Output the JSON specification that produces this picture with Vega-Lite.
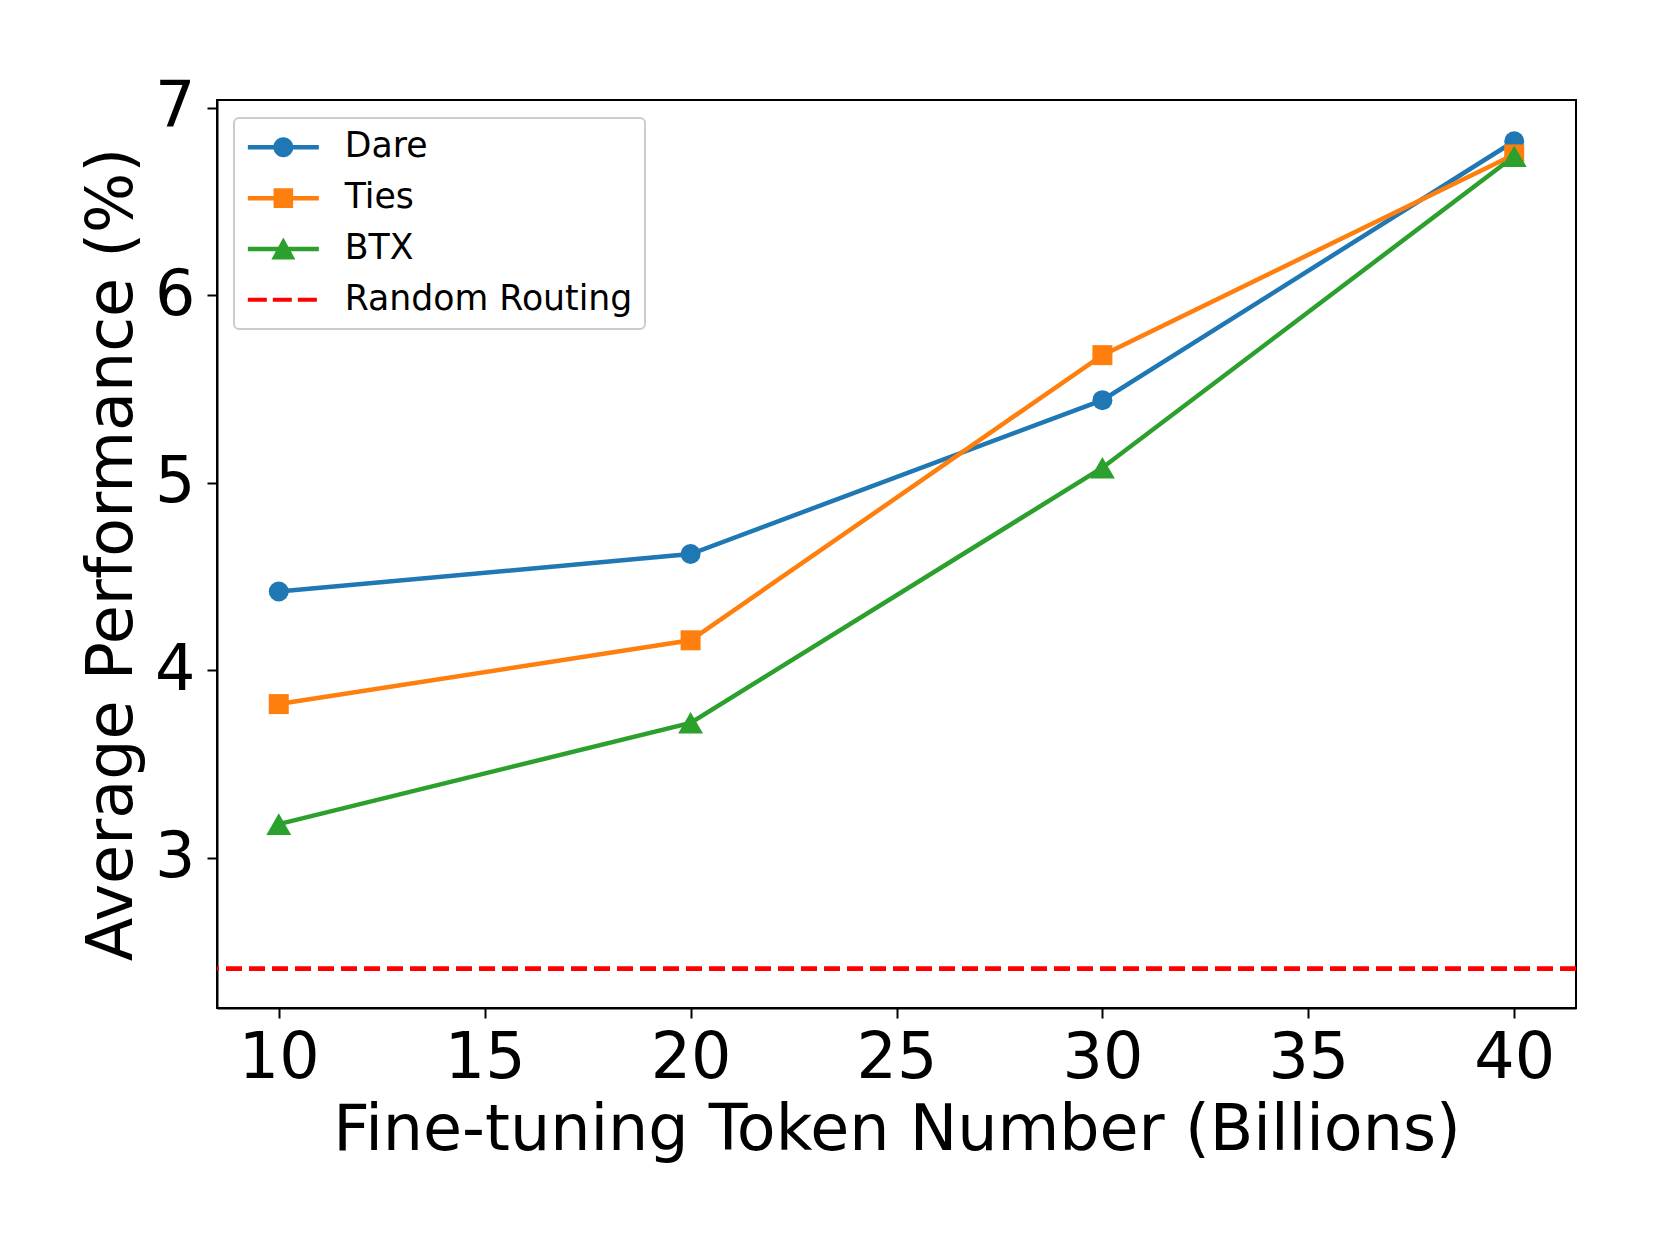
{
  "$schema": "https://vega.github.io/schema/vega-lite/v6.json",
  "width": 1359,
  "height": 908,
  "autosize": {"type": "none"},
  "padding": {"left": 217, "top": 100, "right": 85, "bottom": 238},
  "background": "white",
  "datasets": {
    "perf": [
      {"series": "Dare", "tokens": 10, "value": 4.42},
      {"series": "Dare", "tokens": 20, "value": 4.62},
      {"series": "Dare", "tokens": 30, "value": 5.44},
      {"series": "Dare", "tokens": 40, "value": 6.82},
      {"series": "Ties", "tokens": 10, "value": 3.82},
      {"series": "Ties", "tokens": 20, "value": 4.16},
      {"series": "Ties", "tokens": 30, "value": 5.68},
      {"series": "Ties", "tokens": 40, "value": 6.75},
      {"series": "BTX", "tokens": 10, "value": 3.18},
      {"series": "BTX", "tokens": 20, "value": 3.72},
      {"series": "BTX", "tokens": 30, "value": 5.08},
      {"series": "BTX", "tokens": 40, "value": 6.74}
    ],
    "random": [{"series": "Random Routing", "value": 2.41}],
    "legendRows": [
      {"series": "Dare"},
      {"series": "Ties"},
      {"series": "BTX"},
      {"series": "Random Routing"}
    ]
  },
  "config": {
    "font": "DejaVu Sans",
    "view": {"stroke": "black", "strokeWidth": 2},
    "axis": {
      "grid": false,
      "domainColor": "black",
      "domainWidth": 2,
      "tickColor": "black",
      "tickWidth": 2,
      "tickSize": 10,
      "labelColor": "black",
      "labelFont": "DejaVu Sans",
      "labelFontSize": 63.5,
      "labelFlush": false,
      "labelOverlap": false,
      "titleColor": "black",
      "titleFont": "DejaVu Sans",
      "titleFontSize": 63.5,
      "titleFontWeight": "normal"
    },
    "legend": {
      "orient": "none",
      "direction": "vertical",
      "legendX": 17,
      "legendY": 18,
      "padding": 12,
      "rowPadding": 14.8,
      "labelFont": "DejaVu Sans",
      "labelFontSize": 34.7,
      "labelColor": "black",
      "labelOffset": 64,
      "labelLimit": 600,
      "symbolSize": 400,
      "symbolStrokeWidth": 0,
      "symbolOpacity": 1,
      "fillColor": "rgba(255,255,255,0.8)",
      "strokeColor": "#cccccc",
      "strokeWidth": 2,
      "cornerRadius": 5
    }
  },
  "layer": [
    {
      "data": {"name": "perf"},
      "mark": {"type": "line", "strokeWidth": 4.5},
      "encoding": {
        "x": {
          "field": "tokens",
          "type": "quantitative",
          "scale": {"domain": [8.5, 41.5], "nice": false, "zero": false},
          "axis": {
            "values": [10, 15, 20, 25, 30, 35, 40],
            "format": "d",
            "title": "Fine-tuning Token Number (Billions)",
            "labelPadding": 9,
            "titlePadding": 10
          }
        },
        "y": {
          "field": "value",
          "type": "quantitative",
          "scale": {"domain": [2.2, 7.04], "nice": false, "zero": false},
          "axis": {
            "values": [3, 4, 5, 6, 7],
            "format": "d",
            "title": "Average Performance (%)",
            "labelPadding": 12,
            "titlePadding": 10
          }
        },
        "color": {
          "field": "series",
          "type": "nominal",
          "scale": {
            "domain": ["Random Routing", "Dare", "Ties", "BTX"],
            "range": ["#ff0000", "#1f77b4", "#ff7f0e", "#2ca02c"]
          },
          "legend": null
        },
        "detail": {"field": "series"}
      }
    },
    {
      "data": {"name": "random"},
      "mark": {"type": "rule", "strokeWidth": 4.7, "strokeDash": [16, 7]},
      "encoding": {
        "y": {"field": "value", "type": "quantitative"},
        "color": {"field": "series", "type": "nominal", "legend": null}
      }
    },
    {
      "data": {"name": "perf"},
      "transform": [{"filter": "datum.series === 'Dare'"}],
      "mark": {"type": "point", "shape": "circle", "filled": true, "opacity": 1, "size": 400},
      "encoding": {
        "x": {"field": "tokens", "type": "quantitative"},
        "y": {"field": "value", "type": "quantitative"},
        "color": {"field": "series", "type": "nominal", "legend": null}
      }
    },
    {
      "data": {"name": "perf"},
      "transform": [{"filter": "datum.series === 'Ties'"}],
      "mark": {"type": "point", "shape": "square", "filled": true, "opacity": 1, "size": 400},
      "encoding": {
        "x": {"field": "tokens", "type": "quantitative"},
        "y": {"field": "value", "type": "quantitative"},
        "color": {"field": "series", "type": "nominal", "legend": null}
      }
    },
    {
      "data": {"name": "perf"},
      "transform": [{"filter": "datum.series === 'BTX'"}],
      "mark": {"type": "point", "shape": "triangle-up", "filled": true, "opacity": 1, "size": 620},
      "encoding": {
        "x": {"field": "tokens", "type": "quantitative"},
        "y": {"field": "value", "type": "quantitative"},
        "color": {"field": "series", "type": "nominal", "legend": null}
      }
    },
    {
      "data": {"name": "legendRows"},
      "mark": {"type": "point", "filled": true, "opacity": 1, "size": 400, "strokeWidth": 0, "clip": true},
      "encoding": {
        "x": {"datum": 0, "type": "quantitative"},
        "y": {"datum": 0, "type": "quantitative"},
        "fill": {
          "field": "series",
          "type": "nominal",
          "scale": {
            "domain": ["Dare", "Ties", "BTX", "Random Routing"],
            "range": ["#1f77b4", "#ff7f0e", "#2ca02c", "#ff0000"]
          },
          "legend": {"title": null}
        },
        "shape": {
          "field": "series",
          "type": "nominal",
          "scale": {
            "domain": ["Dare", "Ties", "BTX", "Random Routing"],
            "range": [
              "M-1.55,-0.225H5.55V0.225H-1.55Z M3,0A1,1,0,1,1,1,0A1,1,0,1,1,3,0Z",
              "M-1.55,-0.225H5.55V0.225H-1.55Z M1.02,-0.98H2.98V0.98H1.02Z",
              "M-1.55,-0.225H5.55V0.225H-1.55Z M2,-1.15L3.2,1.05H0.8Z",
              "M-1.55,-0.2H0.35V0.2H-1.55Z M0.95,-0.2H2.85V0.2H0.95Z M3.45,-0.2H5.35V0.2H3.45Z"
            ]
          },
          "legend": {"title": null}
        }
      }
    }
  ]
}
